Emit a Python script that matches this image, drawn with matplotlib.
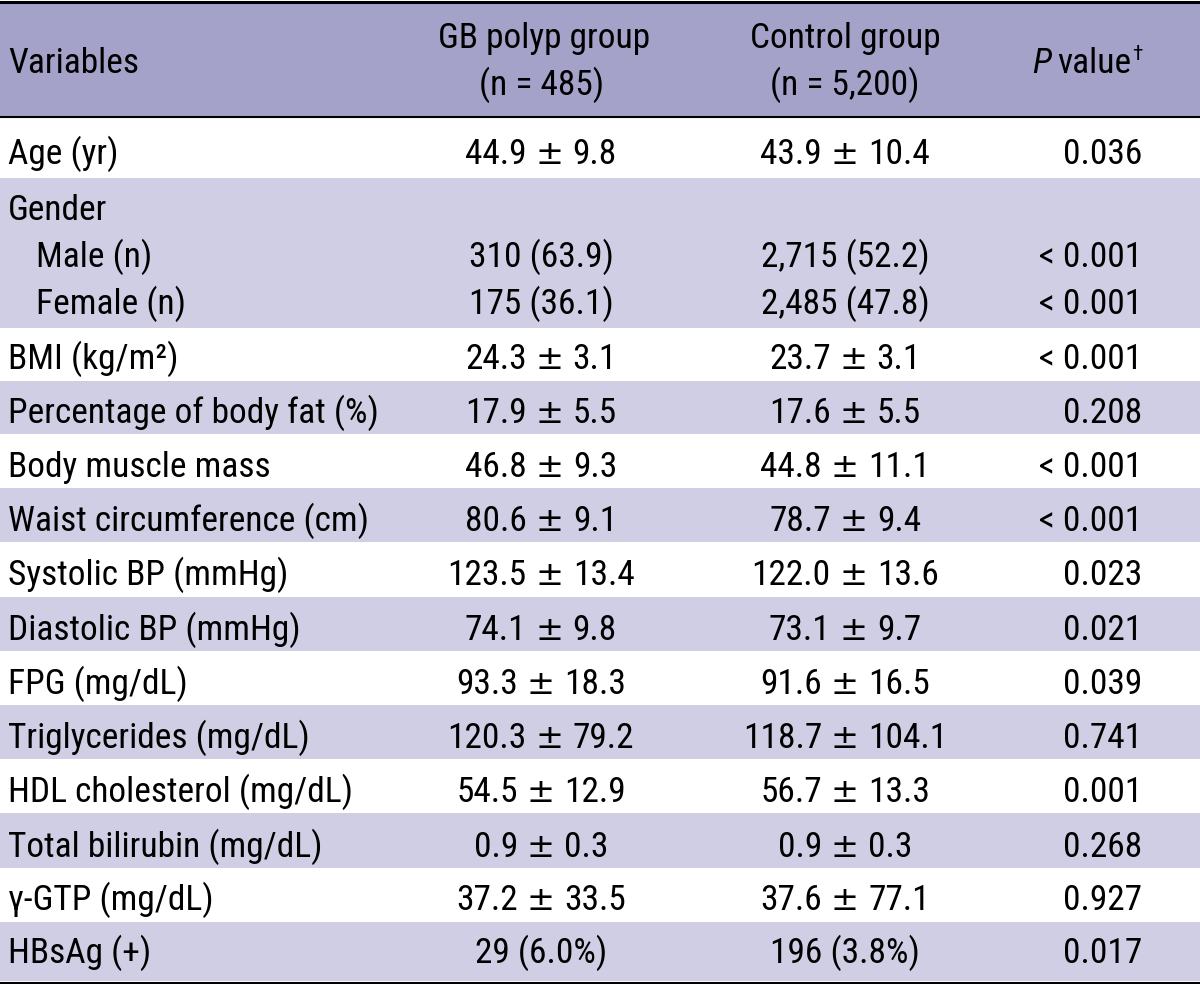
"""
table of baseline characteristics, GB polyp vs control
"""
import matplotlib.pyplot as plt
from matplotlib.patches import Rectangle

plt.rcParams['font.family'] = ['Roboto Condensed', 'DejaVu Sans Condensed',
                               'Roboto', 'DejaVu Sans']

# table content
variables = ["Age (yr)", "Gender", "Male (n)", "Female (n)", "BMI (kg/m\u00b2)",
             "Percentage of body fat (%)", "Body muscle mass",
             "Waist circumference (cm)", "Systolic BP (mmHg)",
             "Diastolic BP (mmHg)", "FPG (mg/dL)", "Triglycerides (mg/dL)",
             "HDL cholesterol (mg/dL)", "Total bilirubin (mg/dL)",
             "\u03b3-GTP (mg/dL)", "HBsAg (+)"]
indented = [False, False, True, True] + [False] * 12
gb_group = ["44.9 \u00b1 9.8", "", "310 (63.9)", "175 (36.1)", "24.3 \u00b1 3.1",
            "17.9 \u00b1 5.5", "46.8 \u00b1 9.3", "80.6 \u00b1 9.1",
            "123.5 \u00b1 13.4", "74.1 \u00b1 9.8", "93.3 \u00b1 18.3",
            "120.3 \u00b1 79.2", "54.5 \u00b1 12.9", "0.9 \u00b1 0.3",
            "37.2 \u00b1 33.5", "29 (6.0%)"]
control_group = ["43.9 \u00b1 10.4", "", "2,715 (52.2)", "2,485 (47.8)",
                 "23.7 \u00b1 3.1", "17.6 \u00b1 5.5", "44.8 \u00b1 11.1",
                 "78.7 \u00b1 9.4", "122.0 \u00b1 13.6", "73.1 \u00b1 9.7",
                 "91.6 \u00b1 16.5", "118.7 \u00b1 104.1", "56.7 \u00b1 13.3",
                 "0.9 \u00b1 0.3", "37.6 \u00b1 77.1", "196 (3.8%)"]
p_values = ["0.036", "", "< 0.001", "< 0.001", "< 0.001", "0.208", "< 0.001",
            "< 0.001", "0.023", "0.021", "0.039", "0.741", "0.001", "0.268",
            "0.927", "0.017"]
header_gb = ["GB polyp group", "(n = 485)"]
header_ctrl = ["Control group", "(n = 5,200)"]

# layout (pixels)
W, H = 1200, 984
band_edges = [117, 178, 328, 381, 434, 488, 542, 597, 651, 705, 759, 813,
              868, 922, 981]
baselines = [164, 220, 267, 314, 369, 423, 477, 531, 585, 640, 694, 748,
             802, 857, 910, 963]
head_col = '#a4a2c9'
band_col = '#d0cee4'
fs = 25.5
x_var, x_ind, x_gb, x_ctrl, x_p = 8, 36, 541, 845, 1142

fig = plt.figure(figsize=(12, 9.84), dpi=100)
ax = fig.add_axes([0, 0, 1, 1])
ax.set_xlim(0, W)
ax.set_ylim(H, 0)
ax.axis('off')
rend = fig.canvas.get_renderer()


def width(t):
    return t.get_window_extent(rend).width


def cell(xc, y, s):
    """centre a value; mean +- sd gets a wide plus-minus sign"""
    if '\u00b1' not in s:
        ax.text(xc, y, s, fontsize=fs, va='baseline', ha='center')
        return
    m, sd = [p.strip() for p in s.split('\u00b1')]
    gap = 9
    tm = ax.text(0, y, m, fontsize=fs, va='baseline', ha='left')
    tp = ax.text(0, y, '\u00b1', fontsize=fs * 0.95, va='baseline', ha='left',
                 family='DejaVu Sans')
    ts = ax.text(0, y, sd, fontsize=fs, va='baseline', ha='left')
    wm, wp, ws = width(tm), width(tp), width(ts)
    x0 = xc - (wm + wp + ws + 2 * gap) / 2
    tm.set_x(x0)
    tp.set_x(x0 + wm + gap)
    ts.set_x(x0 + wm + wp + 2 * gap)


# backgrounds
ax.add_patch(Rectangle((0, 2), W, 115, color=head_col, lw=0))
for i in range(len(band_edges) - 1):
    if i % 2 == 1:
        ax.add_patch(Rectangle((0, band_edges[i]), W,
                               band_edges[i + 1] - band_edges[i],
                               color=band_col, lw=0))

# rules
ax.axhline(1.5, color='black', lw=2.2)
ax.axhline(116.5, color='black', lw=1.5)
ax.axhline(982.5, color='black', lw=2.2)

# header
ax.text(x_var, 73, "Variables", fontsize=fs, va='baseline', ha='left')
ax.text(x_gb + 3, 48, header_gb[0], fontsize=fs, va='baseline', ha='center')
ax.text(x_gb + 1, 95, header_gb[1], fontsize=fs, va='baseline', ha='center')
ax.text(x_ctrl, 48, header_ctrl[0], fontsize=fs, va='baseline', ha='center')
ax.text(x_ctrl, 95, header_ctrl[1], fontsize=fs, va='baseline', ha='center')
ax.text(x_p, 60, "\u2020", fontsize=fs * 0.6, va='baseline', ha='right')
val = ax.text(x_p - 11, 73, "value", fontsize=fs, va='baseline', ha='right')
ax.annotate("P", xy=(0, 0), xycoords=val, xytext=(-4, 0),
            textcoords='offset points', fontsize=fs, va='bottom', ha='right',
            style='italic')

# body
for i, name in enumerate(variables):
    y = baselines[i]
    ax.text(x_ind if indented[i] else x_var, y, name, fontsize=fs,
            va='baseline', ha='left')
    cell(x_gb, y, gb_group[i])
    cell(x_ctrl, y, control_group[i])
    ax.text(x_p, y, p_values[i], fontsize=fs, va='baseline', ha='right')

fig.savefig('out.png', dpi=100)
